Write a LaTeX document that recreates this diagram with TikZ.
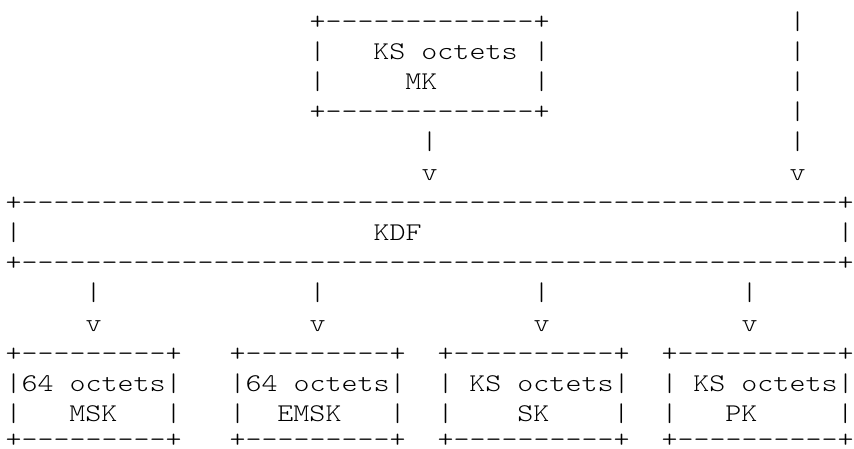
\documentclass[tikz,border=0pt]{standalone}
\usepackage{graphicx}
\usepackage{fontspec}
\setmonofont{lmmonolt10-regular.otf}
% a run of n hyphens, kept apart so no ligature mapping joins them
\newcommand\dashrun[1]{\foreach \k in {1,...,#1}{-\kern0pt}}
% glyphs widened to a 16pt character pitch
\newcommand\wide[1]{\scalebox{1.1952}[1]{#1}}
\tikzset{
  asc/.style={font=\ttfamily\fontsize{25.5}{30.2}\selectfont,
    inner sep=0pt, outer sep=0pt, anchor=base west, text=black},
  % character cell: column #1, line #2 (counted from the top)
  cellat/.style 2 args={at={({5.5+16*(#1)},{418.9-30.2*(#2)})}},
}
\newcommand\glyphs[4]{\node[asc, cellat={#2}{#3}] (#1) {\wide{#4}};}
% closing border line, kept within the lower edge
\newcommand\lastrow[4]{\node[asc, cellat={#2}{#3}] (#1) {\wide{\smash{#4}}};}
\begin{document}
\begin{tikzpicture}[x=1pt,y=1pt]
\useasboundingbox (0,0) rectangle (854,448);

% master key box
\glyphs{mk-top}{19}{0}{+\dashrun{13}+}
\glyphs{mk-size}{19}{1}{|~~~KS~octets~|}
\glyphs{mk-name}{19}{2}{|~~~~~MK~~~~~~|}
\glyphs{mk-bot}{19}{3}{+\dashrun{13}+}

% arrow from MK into the KDF
\glyphs{mk-shaft}{26}{4}{|}
\glyphs{mk-head}{26}{5}{v}

% second input coming from above
\foreach \r in {0,...,4}{\glyphs{in-shaft-\r}{49}{\r}{|}}
\glyphs{in-head}{49}{5}{v}

% key derivation function
\glyphs{kdf-top}{0}{6}{+\dashrun{51}+}
\glyphs{kdf-left}{0}{7}{|}
\glyphs{kdf}{23}{7}{KDF}
\glyphs{kdf-right}{52}{7}{|}
\glyphs{kdf-bot}{0}{8}{+\dashrun{51}+}

% arrows out of the KDF
\foreach \c/\n in {5/msk, 19/emsk, 33/sk, 46/pk}{
  \glyphs{\n-shaft}{\c}{9}{|}
  \glyphs{\n-head}{\c}{10}{v}
}

% derived keys
\glyphs{msk-top}{0}{11}{+\dashrun{9}+}
\glyphs{msk-size}{0}{12}{|64~octets|}
\glyphs{msk-name}{0}{13}{|~~~MSK~~~|}
\lastrow{msk-bot}{0}{13.86}{+\dashrun{9}+}

\glyphs{emsk-top}{14}{11}{+\dashrun{9}+}
\glyphs{emsk-size}{14}{12}{|64~octets|}
\glyphs{emsk-name}{14}{13}{|~~EMSK~~~|}
\lastrow{emsk-bot}{14}{13.86}{+\dashrun{9}+}

\glyphs{sk-top}{27}{11}{+\dashrun{10}+}
\glyphs{sk-size}{27}{12}{|~KS~octets|}
\glyphs{sk-name}{27}{13}{|~~~~SK~~~~|}
\lastrow{sk-bot}{27}{13.86}{+\dashrun{10}+}

\glyphs{pk-top}{41}{11}{+\dashrun{10}+}
\glyphs{pk-size}{41}{12}{|~KS~octets|}
\glyphs{pk-name}{41}{13}{|~~~PK~~~~~|}
\lastrow{pk-bot}{41}{13.86}{+\dashrun{10}+}
\end{tikzpicture}
\end{document}
